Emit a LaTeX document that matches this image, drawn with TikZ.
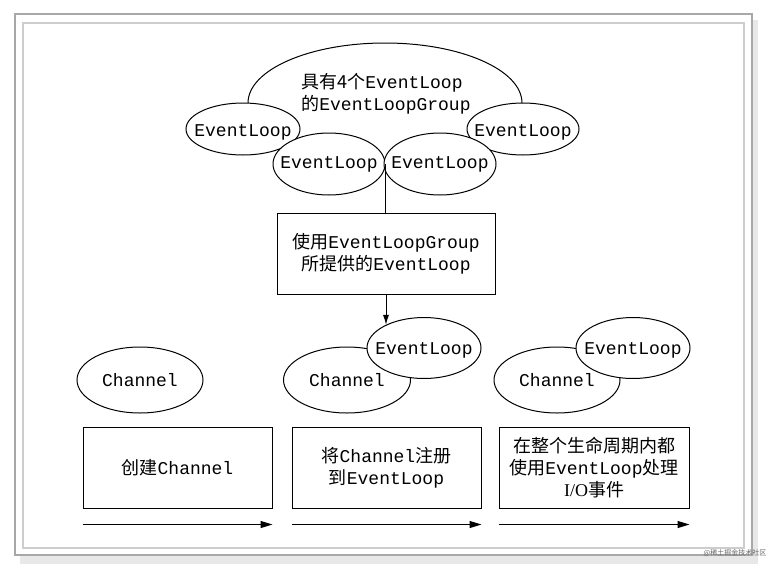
\documentclass[tikz,border=0pt]{standalone}
\usepackage{fontspec}
\setmainfont{Liberation Serif}
\setmonofont{Liberation Mono}
\newfontfamily\cjk{Noto Sans CJK SC}
\usepackage{xcolor}
\definecolor{framegray}{RGB}{168,168,168}
\definecolor{innergray}{RGB}{205,205,205}
\definecolor{shadowgray}{RGB}{232,232,232}
\usepackage{tikz}
\usetikzlibrary{positioning, arrows.meta, shapes}

\begin{document}
\begin{tikzpicture}[
    % GLOBAL CFG
    x=1pt, y=-1pt,
    font=\ttfamily\fontsize{18}{22}\selectfont,
    line width=1pt,
    % Styles
    loop/.style={% For EventLoop and Channel ellipses
        ellipse,
        draw,
        fill=white,
        inner sep=0pt,
        },
    looptxt/.style={% Text inside an ellipse
        inner sep=0pt,
        },
    stage/.style={% For the boxes of each stage
        rectangle,
        draw,
        fill=white,
        align=center,
        minimum height=81pt,
        inner sep=0pt,
        },
    ArrowT/.style={% Time arrows under the stages
        -{Triangle[length=12pt,width=7pt]},
        line width=1.2pt,
        },
    ArrowD/.style={% Arrow down to the EventLoop
        -{Latex[length=10pt,width=6pt]},
        },
    ]

    \useasboundingbox (0,0) rectangle (774,568);

    % Draw the frame with its shadow
    \fill [shadowgray] (20,555) rectangle (758,564);
    \fill [shadowgray] (752,20) rectangle (758,564);
    \draw [framegray, line width=1.5pt, fill=white] (15,14) rectangle (752,555);
    \draw [innergray, line width=1.2pt] (23,23) rectangle (744,548);

    % Draw the group and its EventLoops named el#
    \node [loop, minimum width=274pt, minimum height=120pt] (group) at (385,103) {};
    \node [align=left] (grouptxt) at (386,94) {{\cjk 具有4个}EventLoop\\{\cjk 的}EventLoopGroup};
    \node [loop, minimum width=114pt, minimum height=52pt,
        label={[looptxt, yshift=-3pt]center:EventLoop}] (elA) at (243,129) {};
    \node [loop, minimum width=112pt, minimum height=52pt,
        label={[looptxt, yshift=-3pt]center:EventLoop}] (elD) at (523,129) {};
    \node [loop, minimum width=112pt, minimum height=62pt,
        label={[looptxt]center:EventLoop}] (elB) at (329,164) {};
    \node [loop, minimum width=112pt, minimum height=62pt,
        label={[looptxt]center:EventLoop}] (elC) at (440,164) {};

    % The EventLoop handed out
    \node [stage, minimum width=218pt] (usebox) at (386,253.5)
        {{\cjk 使用}EventLoopGroup\\{\cjk 所提供的}EventLoop};

    % Draw the Channels named ch# and their EventLoops named reg#
    \node [loop, minimum width=126pt, minimum height=66pt,
        label={[looptxt]center:Channel}] (ch1) at (140,380) {};
    \node [loop, minimum width=127pt, minimum height=66pt,
        label={[looptxt]center:Channel}] (ch2) at (347,380) {};
    \node [loop, minimum width=114pt, minimum height=61pt,
        label={[looptxt, yshift=-2pt]center:EventLoop}] (reg2) at (424,348) {};
    \node [loop, minimum width=126pt, minimum height=66pt,
        label={[looptxt]center:Channel}] (ch3) at (557,380) {};
    \node [loop, minimum width=114pt, minimum height=61pt,
        label={[looptxt, yshift=-2pt]center:EventLoop}] (reg3) at (633,348) {};

    % Draw the stages named box#
    \node [stage, minimum width=189pt] (box1) at (177.5,467.5) {{\cjk 创建}Channel};
    \node [stage, minimum width=189pt] (box2) at (386.5,467.5)
        {{\cjk 将}Channel{\cjk 注册}\\{\cjk 到}EventLoop};
    \node [stage, minimum width=190pt] (box3) at (594,467.5)
        {{\cjk 在整个生命周期内都}\\{\cjk 使用}EventLoop{\cjk 处理}\\{\rmfamily I/O}{\cjk 事件}};

    % Connect all
    \draw (elB.east) -- (elB.east |- usebox.north);
    \draw [ArrowD] (usebox.south) -- (usebox.south |- reg2.149);

    % Time arrows
    \foreach \b in {box1,box2,box3}
        \draw [ArrowT] ([yshift=-16pt]\b.south west) -- ([yshift=-16pt]\b.south east);

    % Mark of the site
    \node [font=\cjk\fontsize{7}{8}\selectfont, text=gray!80!black] (mark) at (735,553) {@稀土掘金技术社区};

\end{tikzpicture}
\end{document}
